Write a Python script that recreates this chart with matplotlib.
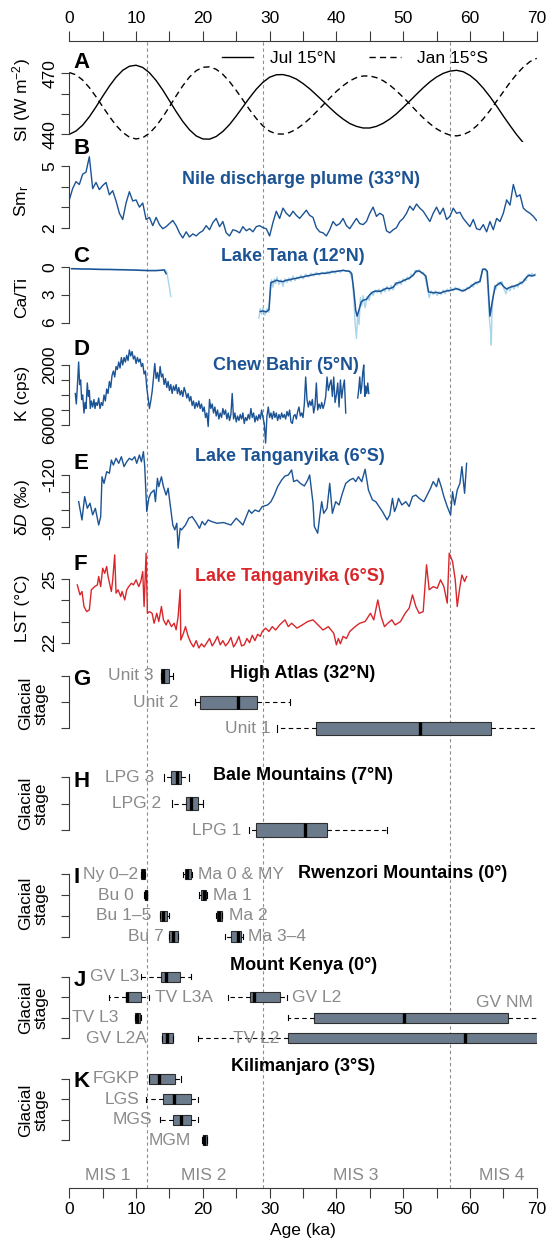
import numpy as np
import matplotlib
matplotlib.use('Agg')
import matplotlib.pyplot as plt
from matplotlib.ticker import MultipleLocator

plt.rcParams['font.family'] = ['Liberation Sans', 'DejaVu Sans']
plt.rcParams['mathtext.fontset'] = 'custom'
plt.rcParams['mathtext.rm'] = 'Liberation Sans'
plt.rcParams['mathtext.it'] = 'Liberation Sans:italic'
plt.rcParams['mathtext.bf'] = 'Liberation Sans:bold'

# ---- data ----
mis_bounds = [11.7, 29.0, 57.0]
mis_names = ['MIS 1', 'MIS 2', 'MIS 3', 'MIS 4']
mis_centres = [5.75, 20.1, 42.9, 64.7]

# A: summer insolation, 1 ka steps
ins_age = np.arange(0, 71)
jul_15n = [440.0, 441.6, 444.5, 448.6, 453.5, 458.7, 463.7, 468.1, 471.5, 473.5, 474.0,
           472.9, 470.3, 466.5, 461.8, 456.5, 451.2, 446.3, 442.2, 439.2, 437.7, 437.6,
           438.9, 441.4, 444.8, 449.0, 453.5, 458.0, 462.2, 465.6, 468.1, 469.3, 469.4,
           468.6, 467.2, 465.0, 462.4, 459.4, 456.3, 453.1, 450.1, 447.5, 445.3, 443.9, 443.1, 443.1,
           443.9, 445.4, 447.5, 450.1, 453.2, 456.4, 459.7, 462.9, 465.8, 468.2, 470.0, 471.1, 471.5,
           470.8, 469.0, 466.3, 462.7, 458.5, 453.9, 449.0, 444.3, 439.8, 435.8, 432.5, 430.1]
jan_15s = [470.4, 469.3, 466.7, 463.0, 458.5, 453.6, 448.8, 444.4, 440.9, 438.6, 437.7,
           438.3, 440.5, 444.0, 448.5, 453.6, 458.9, 463.9, 468.2, 471.3, 473.0,
           473.2, 472.0, 469.5, 465.9, 461.6, 456.9, 452.1, 447.8, 444.1, 441.5, 440.2,
           440.1, 440.9, 442.5, 444.9, 447.7, 451.0, 454.4, 457.8, 461.1, 463.9, 466.3, 467.9, 468.7,
           468.7, 467.9, 466.4, 464.2, 461.4, 458.2, 454.9, 451.4, 448.1, 445.2, 442.7, 440.8, 439.6, 439.2,
           439.8, 441.4, 444.1, 447.6, 451.7, 456.3, 460.9, 465.5, 469.6, 473.1, 475.8, 477.4]

# B: Nile plume Sm_r, 0.5 ka steps
nile_age = np.arange(0, 70.01, 0.5)
nile_smr = [3.35, 3.9, 4.24, 4.1, 4.6, 4.7, 5.45, 3.9, 4.2, 3.85,
            4.05, 4.2, 3.6, 3.8, 3.3, 2.7, 2.4, 3.2, 3.75, 3.3,
            3.35, 3.0, 3.2, 2.4, 2.5, 2.1, 2.5, 2.15, 1.95, 2.05,
            2.2, 2.35, 2.1, 1.75, 1.5, 1.8, 1.55, 1.7, 1.6, 1.75,
            1.85, 2.1, 1.9, 2.25, 2.45, 2.05, 2.3, 1.75, 1.6, 1.9,
            1.85, 1.75, 2.05, 1.85, 1.95, 1.8, 2.05, 2.1, 2.0, 1.95,
            1.6, 2.25, 2.8, 2.45, 2.95, 2.7, 2.55, 2.8, 2.6, 2.45,
            2.65, 2.85, 2.6, 2.5, 2.0, 1.8, 1.75, 1.6, 1.9, 2.3,
            2.1, 2.2, 2.45, 2.1, 1.95, 2.2, 2.45, 2.2, 2.15, 2.3,
            2.7, 3.0, 2.55, 2.7, 2.6, 1.85, 1.75, 1.9, 2.0, 2.3,
            2.45, 2.7, 3.05, 2.85, 3.15, 2.95, 2.8, 2.55, 2.3, 2.7,
            3.0, 2.65, 2.95, 2.4, 2.55, 2.95, 2.7, 2.75, 2.45, 2.25,
            2.05, 2.4, 1.95, 1.9, 2.15, 1.8, 2.3, 1.9, 2.45, 2.3,
            2.7, 3.35, 3.1, 4.1, 3.5, 3.6, 2.95, 2.8, 2.7, 2.55,
            2.35]

# C: Lake Tana Ca/Ti (age, value); nan breaks the record
tana_smooth = np.array([
    [0.35, 0.22], [1, 0.22], [2, 0.25], [3, 0.25], [4, 0.28], [5, 0.3], [6, 0.3], [7, 0.32],
    [8, 0.33], [9, 0.35], [10, 0.37], [11, 0.4], [12, 0.42], [13, 0.42], [13.8, 0.38],
    [14.2, 0.35], [14.5, 0.75], [np.nan, np.nan],
    [28.6, 4.8], [29.0, 4.75], [29.5, 4.85], [29.9, 4.6], [30.2, 1.7], [30.6, 1.6], [31.0, 1.45],
    [31.5, 1.55], [32.0, 1.6], [32.5, 1.45], [33.0, 1.4], [33.5, 1.3], [34.0, 1.25], [34.5, 1.15],
    [35.0, 1.1], [35.5, 1.0], [36.0, 0.95], [36.5, 0.85], [37.0, 0.8], [37.5, 0.75], [38.0, 0.7],
    [38.5, 0.7], [39.0, 0.6], [39.5, 0.55], [40.0, 0.5], [40.5, 0.45], [41.0, 0.4], [41.5, 0.45],
    [42.0, 0.5], [42.3, 0.75], [42.6, 2.5], [42.9, 4.7], [43.1, 5.3], [43.4, 4.6], [43.7, 3.8],
    [44.0, 3.6], [44.5, 3.5], [45.0, 3.0], [45.5, 2.7], [46.0, 2.6], [46.5, 2.65], [47.0, 2.5],
    [47.5, 2.3], [48.0, 2.35], [48.5, 2.2], [49.0, 1.75], [49.5, 1.7], [50.0, 1.5], [50.5, 1.35],
    [51.0, 1.2], [51.5, 0.9], [52.0, 0.45], [52.5, 0.5], [53.0, 0.75], [53.4, 1.0], [53.8, 2.7],
    [54.2, 2.75], [54.6, 2.8], [55.0, 2.75], [55.5, 2.85], [56.0, 2.7], [56.5, 2.6], [57.0, 2.55],
    [57.5, 2.45], [58.0, 2.35], [58.5, 2.5], [59.0, 2.6], [59.5, 2.4], [60.0, 2.2], [60.5, 1.9],
    [61.0, 1.7], [61.5, 1.6], [61.9, 0.3], [62.3, 0.25], [62.6, 0.5], [62.8, 3.0], [63.0, 5.3],
    [63.4, 3.5], [63.8, 2.1], [64.2, 1.9], [64.6, 1.7], [65.0, 2.1], [65.5, 2.4], [66.0, 2.2],
    [66.5, 2.1], [67.0, 2.0], [67.5, 1.8], [68.0, 1.6], [68.5, 1.1], [68.9, 0.9], [69.3, 1.0],
    [69.7, 0.9]])
tana_raw = np.array([
    [0.3, 0.2], [2, 0.22], [4, 0.25], [6, 0.28], [8, 0.3], [10, 0.33], [12, 0.4], [13.5, 0.38],
    [14.3, 0.3], [14.6, 0.6], [14.9, 1.8], [15.2, 3.2], [np.nan, np.nan],
    [28.4, 5.5], [28.6, 4.5], [28.8, 5.1], [29.0, 4.4], [29.3, 5.2], [29.6, 4.5], [29.9, 4.9],
    [30.1, 2.0], [30.3, 1.4], [30.5, 2.2], [30.7, 1.3], [30.9, 1.8], [31.1, 1.1], [31.4, 1.9],
    [31.7, 1.4], [32.0, 2.1], [32.3, 1.3], [32.6, 1.7], [32.9, 1.2], [33.2, 1.6], [33.5, 1.0],
    [33.8, 1.5], [34.1, 1.1], [34.4, 1.3], [34.7, 0.9], [35.0, 1.3], [35.4, 0.8], [35.8, 1.1],
    [36.2, 0.7], [36.6, 1.0], [37.0, 0.6], [37.4, 0.9], [37.8, 0.6], [38.2, 0.8], [38.6, 0.5],
    [39.0, 0.8], [39.4, 0.4], [39.8, 0.7], [40.2, 0.4], [40.6, 0.6], [41.0, 0.3], [41.4, 0.5],
    [41.8, 0.4], [42.1, 0.8], [42.4, 1.5], [42.6, 3.5], [42.8, 6.0], [43.0, 7.7], [43.2, 5.0],
    [43.4, 6.2], [43.6, 3.3], [43.8, 4.2], [44.0, 3.1], [44.3, 4.4], [44.6, 3.2], [44.9, 3.6],
    [45.2, 2.7], [45.5, 3.1], [45.8, 2.5], [46.1, 2.8], [46.4, 2.4], [46.7, 2.9], [47.0, 2.3],
    [47.3, 2.7], [47.6, 2.1], [47.9, 2.6], [48.2, 2.0], [48.5, 2.5], [48.8, 1.7], [49.1, 2.0],
    [49.4, 1.5], [49.7, 1.9], [50.0, 1.3], [50.3, 1.6], [50.6, 1.1], [50.9, 1.4], [51.2, 0.8],
    [51.5, 1.0], [51.8, 0.4], [52.1, 0.6], [52.4, 0.3], [52.7, 0.7], [53.0, 0.6], [53.3, 1.2],
    [53.6, 2.2], [53.9, 3.3], [54.2, 2.6], [54.5, 3.0], [54.8, 2.6], [55.1, 3.1], [55.4, 2.7],
    [55.7, 3.0], [56.0, 2.5], [56.3, 2.9], [56.6, 2.4], [56.9, 2.7], [57.2, 2.3], [57.5, 2.6],
    [57.8, 2.2], [58.1, 2.5], [58.4, 2.3], [58.7, 2.7], [59.0, 2.4], [59.3, 2.6], [59.6, 2.2],
    [59.9, 2.4], [60.2, 1.9], [60.5, 2.2], [60.8, 1.6], [61.1, 1.9], [61.4, 1.5], [61.7, 0.9],
    [61.9, 0.2], [62.2, 0.3], [62.5, 0.6], [62.7, 2.5], [62.9, 5.5], [63.1, 7.0], [63.2, 8.4],
    [63.3, 5.0], [63.5, 3.0], [63.7, 2.0], [63.9, 2.4], [64.2, 1.7], [64.5, 2.0], [64.8, 1.6],
    [65.1, 2.4], [65.4, 2.9], [65.7, 2.2], [66.0, 2.6], [66.3, 2.0], [66.6, 2.4], [66.9, 1.9],
    [67.2, 2.2], [67.5, 1.6], [67.8, 1.9], [68.1, 1.3], [68.4, 1.5], [68.7, 0.8], [69.0, 1.1],
    [69.3, 0.7], [69.6, 1.0], [69.8, 0.8]])

# D: Chew Bahir K counts (age, cps)
chew_bahir = np.array([
    [0.9, 3900], [1.05, 4600], [1.2, 3500], [1.4, 1800], [1.55, 3300], [1.7, 3000], [1.85, 4300],
    [2.0, 4000], [2.2, 5200], [2.35, 4500], [2.5, 4900], [2.7, 3200], [2.85, 4100], [3.0, 3700],
    [3.15, 4900], [3.3, 4400], [3.5, 4800], [3.7, 4300], [3.85, 4900], [4.0, 4500], [4.2, 4700],
    [4.4, 4200], [4.6, 4900], [4.8, 4500], [5.0, 4700], [5.2, 4000], [5.4, 4400], [5.6, 3600],
    [5.8, 3900], [6.0, 3100], [6.2, 3500], [6.4, 2700], [6.6, 2400], [6.8, 2800], [7.0, 2100],
    [7.2, 2300], [7.4, 1800], [7.6, 2200], [7.8, 1500], [8.0, 2000], [8.2, 1500], [8.4, 1800],
    [8.6, 1350], [8.8, 1700], [9.0, 1000], [9.2, 1400], [9.4, 1100], [9.6, 1600], [9.8, 1400],
    [10.0, 1900], [10.2, 1500], [10.4, 1800], [10.6, 1600], [10.8, 2100], [11.0, 1900],
    [11.2, 2600], [11.4, 2400], [11.6, 3500], [11.8, 4200], [12.0, 4900], [12.2, 4400],
    [12.4, 3800], [12.6, 2900], [12.8, 1900], [13.0, 2900], [13.2, 2500], [13.4, 3100],
    [13.6, 2100], [13.8, 2800], [14.0, 2600], [14.2, 3300], [14.4, 2900], [14.6, 3500],
    [14.8, 3100], [15.0, 3700], [15.2, 3300], [15.4, 3900], [15.6, 3400], [15.8, 3700],
    [16.0, 3300], [16.2, 3900], [16.4, 3500], [16.6, 4000], [16.8, 3700], [17.0, 4100],
    [17.2, 3500], [17.4, 3800], [17.6, 4200], [17.8, 3900], [18.0, 4400], [18.2, 4100],
    [18.4, 4700], [18.6, 4400], [18.8, 4900], [19.0, 4500], [19.2, 4800], [19.4, 4400],
    [19.6, 4900], [19.8, 4600], [20.0, 5100], [20.2, 4800], [20.4, 5500], [20.6, 5200],
    [20.8, 6100], [21.0, 4300], [21.2, 4900], [21.4, 4600], [21.6, 5200], [21.8, 4800],
    [22.0, 5400], [22.2, 5000], [22.4, 5600], [22.6, 5200], [22.8, 5500], [23.0, 4900],
    [23.2, 5300], [23.4, 5000], [23.6, 5600], [23.8, 5200], [24.0, 5700], [24.2, 5300],
    [24.4, 3900], [24.6, 5600], [24.8, 5200], [25.0, 5800], [25.2, 5400], [25.4, 5700],
    [25.6, 5300], [25.8, 5600], [26.0, 5200], [26.2, 5900], [26.4, 5500], [26.6, 5700],
    [26.8, 5300], [27.0, 5600], [27.2, 4900], [27.4, 5500], [27.6, 5200], [27.8, 5800],
    [28.0, 5400], [28.2, 5700], [28.4, 5300], [28.6, 5600], [28.8, 5000], [29.0, 5500],
    [29.2, 5900], [29.4, 7200], [29.6, 5400], [29.8, 4800], [30.0, 5500], [30.2, 5200],
    [30.4, 5600], [30.6, 5100], [30.8, 5500], [31.0, 5200], [31.2, 5700], [31.4, 5300],
    [31.6, 5600], [31.8, 5200], [32.0, 5500], [32.2, 5300], [32.4, 5600], [32.6, 5100],
    [32.8, 5400], [33.0, 5000], [33.2, 5800], [33.4, 5900], [33.6, 5400], [33.8, 5300],
    [34.0, 5600], [34.2, 5100], [34.4, 4800], [34.6, 5400], [34.8, 5200], [35.0, 5500],
    [35.2, 4600], [35.4, 2800], [35.6, 4300], [35.8, 4800], [36.0, 4400], [36.2, 4700],
    [36.4, 4300], [36.6, 5200], [36.8, 4700], [37.0, 3200], [37.2, 5000], [37.4, 4600],
    [37.6, 4900], [37.8, 4500], [38.0, 4900], [38.2, 4600], [38.4, 4100], [38.6, 2800],
    [38.8, 3700], [39.0, 3300], [39.2, 3000], [39.4, 4100], [39.6, 2800], [39.8, 4500],
    [40.0, 4000], [40.2, 3200], [40.4, 4800], [40.6, 3000], [40.8, 4200], [41.0, 3500],
    [41.2, 3000], [41.4, 5200], [np.nan, np.nan],
    [43.2, 4200], [43.35, 3600], [43.5, 2800], [43.65, 3900], [43.8, 3400], [43.95, 2500],
    [44.1, 2000], [44.25, 4100], [44.4, 3400], [44.55, 3900], [44.7, 3200], [44.85, 3900]])

# E: Lake Tanganyika leaf-wax dD (per mil)
tang_dd = np.array([
    [1.4, -104.7], [1.9, -94.2], [2.3, -107.6], [2.7, -100.9], [3.1, -103.8], [3.5, -97.1],
    [3.9, -100.9], [4.2, -95.2], [4.4, -91.3], [4.7, -96.1], [4.9, -119.0], [5.2, -115.2],
    [5.6, -121.9], [6.0, -121.0], [6.3, -128.6], [6.6, -125.7], [7.0, -129.6], [7.4, -126.7],
    [7.8, -130.5], [8.2, -124.8], [8.6, -127.6], [9.0, -129.6], [9.4, -128.6], [9.8, -130.5],
    [10.1, -126.7], [10.5, -131.5], [10.8, -127.6], [11.1, -133.4], [11.3, -124.8], [11.6, -99.0],
    [11.9, -106.6], [12.2, -109.5], [12.7, -111.4], [12.9, -104.7], [13.2, -118.1], [13.4, -113.3],
    [13.8, -119.0], [14.1, -113.3], [14.5, -108.5], [14.8, -112.4], [15.3, -97.1], [15.5, -91.3],
    [15.8, -88.5], [16.1, -92.3], [16.3, -78.0], [16.6, -89.4], [16.8, -88.5], [17.4, -91.3],
    [17.9, -95.2], [18.4, -96.1], [18.9, -93.3], [19.5, -89.4], [19.9, -93.3], [20.3, -91.3],
    [20.8, -94.2], [21.3, -93.3], [22.1, -92.3], [23.1, -92.7], [24.2, -91.3], [25.0, -95.2],
    [25.5, -93.3], [26.0, -91.3], [26.5, -96.1], [26.9, -99.9], [27.3, -98.0], [27.8, -99.9],
    [28.4, -99.0], [28.9, -101.9], [29.7, -102.8], [30.2, -104.7], [30.7, -108.5], [31.2, -113.3],
    [31.8, -117.1], [32.3, -119.4], [32.8, -120.0], [33.3, -122.9], [33.6, -116.2], [34.1, -117.1],
    [34.6, -115.2], [35.2, -113.7], [35.7, -117.1], [36.0, -120.0], [36.5, -103.8], [36.7, -90.4],
    [37.2, -86.6], [37.5, -96.1], [37.8, -104.7], [38.1, -98.0], [38.6, -100.9], [39.0, -115.2],
    [39.4, -98.0], [39.9, -104.7], [40.4, -102.8], [40.9, -109.5], [41.4, -115.2], [42.0, -117.1],
    [42.5, -118.1], [42.9, -116.2], [43.3, -119.0], [43.8, -116.2], [44.3, -123.3], [44.8, -111.4],
    [45.4, -105.7], [45.9, -104.7], [46.4, -101.9], [46.9, -99.0], [47.6, -94.2], [48.0, -97.1],
    [48.4, -106.6], [48.7, -99.0], [49.0, -101.9], [49.3, -106.6], [49.8, -102.8], [50.4, -104.7],
    [50.9, -101.9], [51.4, -107.6], [51.9, -108.5], [52.4, -106.6], [53.1, -104.7], [53.6, -108.5],
    [54.1, -112.4], [54.5, -116.2], [55.0, -113.3], [55.3, -118.1], [55.7, -113.3], [56.1, -107.6],
    [56.6, -101.9], [57.1, -97.1], [57.4, -110.4], [57.7, -102.8], [58.1, -111.4], [58.5, -115.2],
    [58.8, -124.8], [59.2, -109.5], [59.5, -126.7]])

# F: Lake Tanganyika lake surface temperature (deg C)
tang_lst = np.array([
    [1.2, 24.73], [1.6, 24.26], [1.9, 24.42], [2.2, 23.71], [2.6, 23.47], [3.0, 23.55],
    [3.3, 24.5], [3.8, 24.65], [4.2, 24.73], [4.4, 25.13], [4.7, 24.65], [5.0, 25.52],
    [5.3, 25.28], [5.6, 25.6], [5.8, 25.13], [6.3, 24.42], [6.5, 24.97], [6.8, 26.15],
    [7.0, 24.34], [7.3, 24.5], [7.7, 24.18], [7.9, 24.42], [8.3, 24.02], [8.6, 24.5],
    [8.9, 24.65], [9.3, 24.81], [9.6, 24.73], [10.0, 24.97], [10.4, 24.65], [10.7, 24.89],
    [11.0, 25.36], [11.2, 23.71], [11.5, 26.23], [11.7, 23.39], [12.0, 23.47], [12.4, 23.39],
    [12.7, 22.92], [13.1, 23.39], [13.4, 23.0], [13.8, 23.71], [14.1, 23.08], [14.5, 22.84],
    [14.8, 23.08], [15.3, 22.76], [15.7, 22.92], [16.0, 22.61], [16.3, 23.24], [16.6, 24.5],
    [16.7, 22.13], [17.1, 22.45], [17.4, 22.76], [17.8, 22.3], [18.2, 22.0], [18.6, 21.8],
    [19.0, 22.1], [19.4, 21.75], [19.8, 21.95], [20.2, 21.8], [20.6, 22.0], [21.0, 22.2],
    [21.4, 21.85], [21.8, 22.05], [22.2, 22.3], [22.6, 21.9], [23.0, 22.1], [23.4, 21.85],
    [23.8, 22.0], [24.2, 22.25], [24.6, 21.8], [25.0, 22.0], [25.4, 22.3], [25.8, 21.85],
    [26.2, 21.9], [26.6, 22.2], [27.0, 22.0], [27.4, 22.35], [27.8, 22.1], [28.2, 22.4],
    [28.6, 22.3], [28.9, 22.53], [29.4, 22.69], [29.9, 22.53], [30.4, 22.76], [30.9, 22.6],
    [31.5, 22.84], [32.3, 23.08], [32.8, 22.76], [33.3, 22.92], [34.1, 22.69], [34.9, 22.84],
    [35.7, 23.0], [36.5, 23.08], [37.0, 22.92], [37.5, 22.76], [38.0, 22.6], [38.8, 22.76],
    [39.6, 22.45], [40.0, 21.9], [40.3, 22.2], [40.6, 21.95], [41.0, 22.3], [41.5, 22.2],
    [42.0, 22.53], [42.8, 22.76], [43.5, 22.92], [44.3, 23.0], [45.1, 23.39], [45.6, 23.08],
    [46.2, 24.02], [46.7, 23.24], [47.2, 22.76], [47.7, 22.92], [48.3, 23.08], [48.8, 22.84],
    [49.6, 23.0], [50.3, 23.39], [50.9, 23.63], [51.4, 24.26], [51.9, 23.71], [52.4, 23.39],
    [53.0, 23.47], [53.5, 25.68], [53.9, 24.5], [54.5, 24.65], [55.1, 24.57], [55.6, 24.97],
    [56.1, 24.65], [56.6, 23.87], [56.9, 26.23], [57.4, 25.83], [57.8, 24.97], [58.1, 23.71],
    [58.5, 24.65], [58.8, 25.2], [59.2, 24.89], [59.5, 25.13]])

# G-K: glacial stage ages (ka) as (whisker low, Q1, median, Q3, whisker high)
atlas_names = ['Unit 3', 'Unit 2', 'Unit 1']
atlas_rows = [1, 2, 3]
atlas_stats = [(13.7, 13.7, 14.0, 15.0, 15.5), (18.8, 19.5, 25.2, 28.1, 33.0),
               (31.1, 37.0, 52.5, 63.1, 80.0)]

bale_names = ['LPG 3', 'LPG 2', 'LPG 1']
bale_rows = [1, 2, 3]
bale_stats = [(14.2, 15.3, 16.1, 16.7, 17.9), (15.4, 17.5, 18.2, 19.2, 20.0),
              (26.9, 27.9, 35.3, 38.6, 47.6)]

rwen_names = ['Ny 0\u20132', 'Ma 0 & MY', 'Bu 0', 'Ma 1', 'Bu 1\u20135', 'Ma 2', 'Bu 7', 'Ma 3\u20134']
rwen_rows = [1, 1, 2, 2, 3, 3, 4, 4]
rwen_stats = [(10.7, 10.8, 11.0, 11.3, 11.4), (17.1, 17.4, 17.7, 18.2, 18.4),
              (11.2, 11.3, 11.45, 11.6, 11.7), (19.4, 19.7, 20.1, 20.5, 20.6),
              (13.6, 13.6, 14.0, 14.7, 14.9), (22.0, 22.1, 22.4, 22.8, 22.9),
              (15.0, 15.0, 15.5, 16.3, 16.3), (23.3, 24.2, 25.2, 25.7, 26.0)]

kenya_names = ['GV L3', 'TV L3A', 'GV L2', 'TV L3', 'GV NM', 'GV L2A', 'TV L2']
kenya_rows = [1, 2, 2, 3, 3, 4, 4]
kenya_stats = [(10.8, 13.7, 14.5, 16.6, 18.3), (6.0, 8.5, 8.7, 10.8, 11.9),
               (23.8, 27.0, 27.7, 31.6, 32.6), (9.8, 9.8, 10.1, 10.6, 10.8),
               (32.7, 36.6, 50.2, 65.7, 80.0), (13.9, 13.9, 14.6, 15.5, 15.5),
               (19.2, 32.8, 59.2, 75.0, 80.0)]

kili_names = ['FGKP', 'LGS', 'MGS', 'MGM']
kili_rows = [1, 2, 3, 4]
kili_stats = [(12.0, 12.0, 13.4, 15.8, 16.8), (11.5, 14.0, 15.7, 18.2, 19.2),
              (13.6, 15.6, 16.7, 18.3, 19.2), (19.9, 19.95, 20.2, 20.55, 20.6)]

# ---- layout / style ----
W, H = 548, 1242
X0, X1 = 69.3, 536.7
FS = 12.5
AXIS = '#3a3a3a'
BLUE = '#1b5394'
LIGHT = '#a8d4ec'
RED = '#d9262b'
GREY_TXT = '#8a8a8a'
BOX = '#6c7b8b'


def fxy(px, py):
    return px / W, 1 - py / H


def add_panel(fig, top, bottom):
    """Axes spanning the age range, placed by pixel rows."""
    ax = fig.add_axes([X0 / W, 1 - bottom / H, (X1 - X0) / W, (bottom - top) / H])
    ax.set_xlim(0, 70)
    ax.patch.set_visible(False)
    for side in ('top', 'right', 'bottom'):
        ax.spines[side].set_visible(False)
    ax.set_xticks([])
    ax.spines['left'].set_color(AXIS)
    ax.spines['left'].set_linewidth(0.8)
    ax.tick_params(axis='y', direction='out', length=5.5, width=0.8, color=AXIS,
                   pad=3, labelsize=FS)
    return ax


def y_axis(ax, ticks, labels):
    ax.set_yticks(ticks)
    ax.set_yticklabels(labels, rotation=90, va='center')
    ax.spines['left'].set_bounds(min(ticks), max(ticks))


def draw_boxes(ax, names, rows, stats, label_pos):
    n = max(rows)
    ax.set_ylim(n + 0.5, 0.5)
    y_axis(ax, list(range(1, n + 1)), [''] * n)
    bx = [dict(whislo=a, q1=b, med=c, q3=d, whishi=e) for (a, b, c, d, e) in stats]
    ax.bxp(bx, positions=rows, widths=0.5, orientation='horizontal', patch_artist=True,
           showfliers=False, manage_ticks=False, capwidths=0.25,
           boxprops=dict(facecolor=BOX, edgecolor='#2e2e2e', linewidth=0.8),
           medianprops=dict(color='black', linewidth=2.4, solid_capstyle='butt'),
           whiskerprops=dict(color='black', linewidth=0.8, linestyle=(0, (4, 3))),
           capprops=dict(color='black', linewidth=0.8))
    for name, row, (x, ha, dy) in zip(names, rows, label_pos):
        ax.text(x, row + dy, name, ha=ha, va='center', color=GREY_TXT, fontsize=FS)


def label(fig, letter, py):
    fig.text(*fxy(73.5, py), letter, ha='left', va='center', fontsize=16, fontweight='bold')


def title(fig, text, px, py, color):
    fig.text(*fxy(px, py), text, ha='center', va='center', fontsize=13,
             fontweight='bold', color=color)


def ylab(fig, text, py, px=22):
    fig.text(*fxy(px, py), text, ha='center', va='center', rotation=90, fontsize=FS,
             multialignment='center', linespacing=1.05)


def main():
    fig = plt.figure(figsize=(W / 100, H / 100), dpi=100)

    # shared age axes (top and bottom) with MIS boundaries
    bg = fig.add_axes([X0 / W, 1 - 1187.7 / H, (X1 - X0) / W, (1187.7 - 41) / H])
    bg.set_xlim(0, 70)
    bg.set_ylim(0, 1)
    bg.set_yticks([])
    bg.patch.set_visible(False)
    bg.spines['left'].set_visible(False)
    bg.spines['right'].set_visible(False)
    for side in ('top', 'bottom'):
        bg.spines[side].set_color(AXIS)
        bg.spines[side].set_linewidth(0.8)
    bg.set_xticks(range(0, 71, 10))
    bg.xaxis.set_minor_locator(MultipleLocator(5))
    bg.tick_params(axis='x', which='both', direction='out', length=7.2, width=0.8,
                   color=AXIS, top=True, labeltop=True, bottom=True, labelbottom=True,
                   pad=3.3, labelsize=FS)
    for x in mis_bounds:
        bg.axvline(x, color='#8f8f8f', lw=0.8, ls=(0, (3, 2.5)))
    for name, x in zip(mis_names, mis_centres):
        bg.text(x, (1187.7 - 1175) / (1187.7 - 41), name, ha='center', va='center',
                color=GREY_TXT, fontsize=FS)
    fig.text(*fxy(303, 1231), 'Age (ka)', ha='center', va='center', fontsize=FS)

    # A insolation
    ax = add_panel(fig, 50, 142)
    ax.set_ylim(436.2, 481.5)
    y_axis(ax, [440, 450, 460, 470], ['440', '', '', '470'])
    l1, = ax.plot(ins_age, jul_15n, color='black', lw=1.0, label='Jul 15\u00b0N')
    l2, = ax.plot(ins_age, jan_15s, color='black', lw=1.0, ls=(0, (4.5, 3)), label='Jan 15\u00b0S')
    ax.legend(handles=[l1, l2], loc='center left', bbox_to_anchor=fxy(221.7, 58.3),
              bbox_transform=fig.transFigure, ncol=2, frameon=False, borderpad=0,
              borderaxespad=0, handlelength=1.82, handletextpad=0.96, columnspacing=1.9,
              fontsize=FS)
    label(fig, 'A', 62.7)
    ylab(fig, 'SI (W m$^{-2}$)', 100)

    # B Nile
    ax = add_panel(fig, 145, 243)
    ax.set_ylim(1.256, 6.02)
    y_axis(ax, [2, 3, 4, 5], ['2', '', '', '5'])
    ax.plot(nile_age, nile_smr, color=BLUE, lw=1.0)
    label(fig, 'B', 148.3)
    title(fig, 'Nile discharge plume (33\u00b0N)', 301, 180, BLUE)
    ylab(fig, 'Sm$_\\mathregular{r}$', 201)

    # C Lake Tana
    ax = add_panel(fig, 250, 350)
    ax.set_ylim(8.93, -1.79)
    y_axis(ax, [0, 3, 6], ['0', '3', '6'])
    ax.plot(tana_raw[:, 0], tana_raw[:, 1], color=LIGHT, lw=1.0)
    ax.plot(tana_smooth[:, 0], tana_smooth[:, 1], color=BLUE, lw=1.1)
    label(fig, 'C', 256.7)
    title(fig, 'Lake Tana (12\u00b0N)', 293, 256.7, BLUE)
    ylab(fig, 'Ca/Ti', 298)

    # D Chew Bahir
    ax = add_panel(fig, 345, 448)
    ax.set_ylim(7533, 667)
    y_axis(ax, [2000, 3000, 4000, 5000, 6000], ['2000', '', '', '', '6000'])
    ax.plot(chew_bahir[:, 0], chew_bahir[:, 1], color=BLUE, lw=1.0)
    label(fig, 'D', 350)
    title(fig, 'Chew Bahir (5\u00b0N)', 286, 365, BLUE)
    ylab(fig, 'K (cps)', 393)

    # E Tanganyika dD
    ax = add_panel(fig, 448, 552)
    ax.set_ylim(-75.8, -135.5)
    y_axis(ax, [-120, -110, -100, -90], ['-120', '', '', '-90'])
    ax.plot(tang_dd[:, 0], tang_dd[:, 1], color=BLUE, lw=1.0)
    label(fig, 'E', 463.3)
    title(fig, 'Lake Tanganyika (6\u00b0S)', 290, 456.7, BLUE)
    ylab(fig, '\u03b4$\\mathit{D}$ (\u2030)', 508)

    # F Tanganyika LST
    ax = add_panel(fig, 550, 655)
    ax.set_ylim(21.42, 26.38)
    y_axis(ax, [22, 23, 24, 25], ['22', '', '', '25'])
    ax.plot(tang_lst[:, 0], tang_lst[:, 1], color=RED, lw=1.0)
    label(fig, 'F', 565)
    title(fig, 'Lake Tanganyika (6\u00b0S)', 290, 576.7, RED)
    ylab(fig, 'LST (\u00b0C)', 608)

    # G High Atlas
    ax = add_panel(fig, 662.9, 741.4)
    draw_boxes(ax, atlas_names, atlas_rows, atlas_stats,
               [(12.65, 'right', 0), (16.4, 'right', 0), (30.2, 'right', 0)])
    label(fig, 'G', 679.3)
    title(fig, 'High Atlas (32\u00b0N)', 302.7, 673.3, 'black')
    ylab(fig, 'Glacial\nstage', 703.3, 33)

    # H Bale Mountains
    ax = add_panel(fig, 764.1, 843.2)
    draw_boxes(ax, bale_names, bale_rows, bale_stats,
               [(12.65, 'right', 0), (13.8, 'right', 0), (25.7, 'right', 0)])
    label(fig, 'H', 781.7)
    title(fig, 'Bale Mountains (7\u00b0N)', 303, 775, 'black')
    ylab(fig, 'Glacial\nstage', 803.3, 33)

    # I Rwenzori
    ax = add_panel(fig, 863.9, 947.1)
    draw_boxes(ax, rwen_names, rwen_rows, rwen_stats,
               [(10.3, 'right', 0), (19.2, 'left', 0), (9.6, 'right', 0), (21.45, 'left', 0),
                (12.3, 'right', 0), (23.9, 'left', 0), (14.2, 'right', 0), (26.8, 'left', 0)])
    label(fig, 'I', 877.3)
    title(fig, 'Rwenzori Mountains (0\u00b0)', 402.8, 873.3, 'black')
    ylab(fig, 'Glacial\nstage', 903.3, 33)

    # J Mount Kenya
    ax = add_panel(fig, 966.4, 1048.6)
    draw_boxes(ax, kenya_names, kenya_rows, kenya_stats,
               [(10.55, 'right', 0), (12.9, 'left', 0), (33.3, 'left', 0), (7.4, 'right', 0),
                (69.45, 'right', -0.72), (11.6, 'right', 0), (31.5, 'right', 0)])
    label(fig, 'J', 980)
    title(fig, 'Mount Kenya (0\u00b0)', 303.6, 965, 'black')
    ylab(fig, 'Glacial\nstage', 1007.5, 33)

    # K Kilimanjaro
    ax = add_panel(fig, 1068.8, 1150.2)
    draw_boxes(ax, kili_names, kili_rows, kili_stats,
               [(10.55, 'right', 0), (10.45, 'right', 0), (12.4, 'right', 0), (18.15, 'right', 0)])
    label(fig, 'K', 1081.7)
    title(fig, 'Kilimanjaro (3\u00b0S)', 302.9, 1066.7, 'black')
    ylab(fig, 'Glacial\nstage', 1110, 33)

    fig.savefig('out.png', dpi=100)


if __name__ == '__main__':
    main()
